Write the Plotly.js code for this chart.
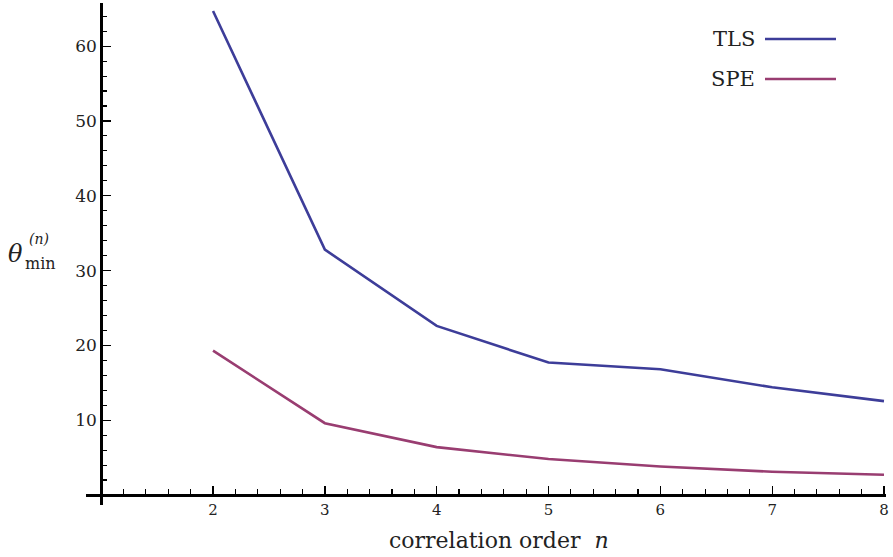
<!DOCTYPE html>
<html>
<head>
<meta charset="utf-8">
<script src="https://cdn.plot.ly/plotly-3.0.1.min.js"></script>
<style>html,body{margin:0;padding:0;background:#fff;}#chart{width:893px;height:557px;}</style>
</head>
<body>
<div id="chart"></div>
<script>
// Data
const orders = [2, 3, 4, 5, 6, 7, 8];
const tlsValues = [64.7, 32.8, 22.6, 17.7, 16.8, 14.4, 12.55];
const speValues = [19.3, 9.6, 6.4, 4.8, 3.8, 3.1, 2.7];
const seriesNames = ["TLS", "SPE"];
const xTickVals = [2, 3, 4, 5, 6, 7, 8];
const yTickVals = [10, 20, 30, 40, 50, 60];

const colors = ["#3d3d99", "#993d71"];
const font = "DejaVu Serif";

const xRange = [0.864, 8.018];
const yRange = [-1.34, 65.77];
const xCross = 1, yCross = 0;

const traces = [
  {x: orders, y: tlsValues, name: seriesNames[0], mode: "lines", line: {color: colors[0], width: 2.6}, showlegend: false},
  {x: orders, y: speValues, name: seriesNames[1], mode: "lines", line: {color: colors[1], width: 2.6}, showlegend: false}
];

const px = v => (v - 86) / 800;
const py = v => (505 - v) / 502;

const layout = {
  width: 893, height: 557,
  margin: {l: 86, r: 7, t: 3, b: 52},
  paper_bgcolor: "#ffffff", plot_bgcolor: "#ffffff",
  font: {family: font, color: "#000"},
  xaxis: {
    range: xRange, anchor: "free",
    position: (yCross - yRange[0]) / (yRange[1] - yRange[0]),
    showgrid: false, zeroline: false,
    showline: true, linecolor: "#000", linewidth: 2.6,
    tickmode: "array", tickvals: xTickVals, ticktext: xTickVals.map(String),
    ticks: "inside", ticklen: 8, tickwidth: 1.3, tickcolor: "#000",
    tickfont: {family: font, size: 15, color: "#222"},
    minor: {dtick: 0.2, tick0: 0, ticks: "inside", ticklen: 4.5, tickwidth: 1.1, tickcolor: "#000", showgrid: false}
  },
  yaxis: {
    range: yRange, anchor: "free",
    position: (xCross - xRange[0]) / (xRange[1] - xRange[0]),
    showgrid: false, zeroline: false,
    showline: true, linecolor: "#000", linewidth: 2.6,
    tickmode: "array", tickvals: yTickVals, ticktext: yTickVals.map(String),
    ticks: "inside", ticklen: 8, tickwidth: 1.3, tickcolor: "#000",
    tickfont: {family: font, size: 17, color: "#222"},
    minor: {dtick: 2, tick0: 0, ticks: "inside", ticklen: 4.5, tickwidth: 1.1, tickcolor: "#000", showgrid: false}
  },
  annotations: [
    {xref: "paper", yref: "paper", x: px(499), y: py(540), xanchor: "center", yanchor: "middle",
     text: "correlation order  <i>n</i>", showarrow: false, font: {family: font, size: 22, color: "#222"}},
    {xref: "paper", yref: "paper", x: px(15), y: py(254), xanchor: "center", yanchor: "middle",
     text: "<i>θ</i>", showarrow: false, font: {family: font, size: 24, color: "#222"}},
    {xref: "paper", yref: "paper", x: px(39), y: py(239), xanchor: "center", yanchor: "middle",
     text: "<i>(n)</i>", showarrow: false, font: {family: font, size: 14, color: "#222"}},
    {xref: "paper", yref: "paper", x: px(40), y: py(263), xanchor: "center", yanchor: "middle",
     text: "min", showarrow: false, font: {family: font, size: 16, color: "#222"}},
    {xref: "paper", yref: "paper", x: px(757), y: py(39), xanchor: "right", yanchor: "middle",
     text: seriesNames[0], showarrow: false, font: {family: font, size: 21, color: "#222"}},
    {xref: "paper", yref: "paper", x: px(757), y: py(79), xanchor: "right", yanchor: "middle",
     text: seriesNames[1], showarrow: false, font: {family: font, size: 21, color: "#222"}}
  ],
  shapes: [
    {type: "line", xref: "paper", yref: "paper", x0: px(765), x1: px(836), y0: py(39), y1: py(39), line: {color: colors[0], width: 2.6}},
    {type: "line", xref: "paper", yref: "paper", x0: px(765), x1: px(836), y0: py(79), y1: py(79), line: {color: colors[1], width: 2.6}}
  ]
};

Plotly.newPlot("chart", traces, layout, {displayModeBar: false, staticPlot: true});
</script>
</body>
</html>
